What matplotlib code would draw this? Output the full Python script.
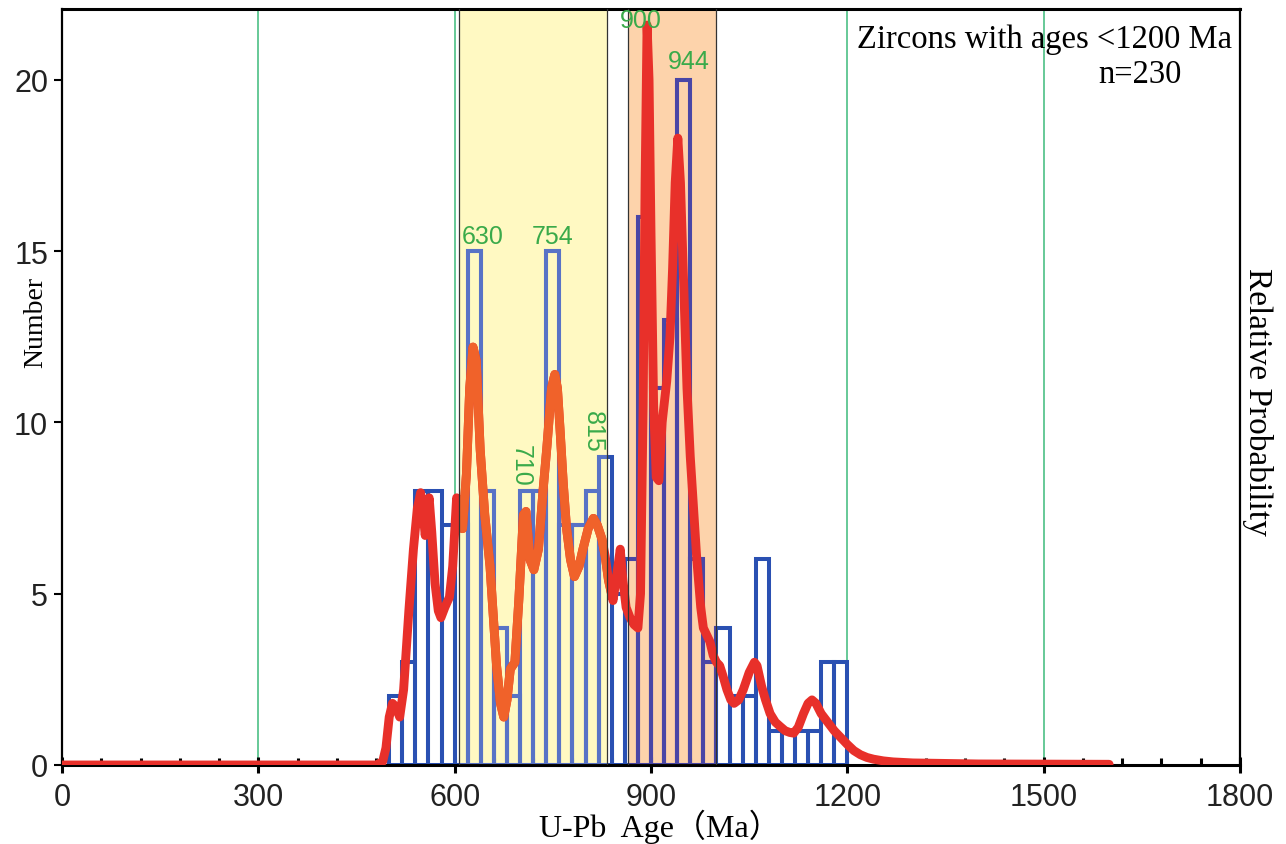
import numpy as np
import matplotlib
matplotlib.use("Agg")
import matplotlib.pyplot as plt
from matplotlib.patches import Rectangle
from matplotlib.ticker import MultipleLocator

# histogram: 20 Ma bins from 500 to 1200 Ma
bin_start = np.arange(500, 1200, 20)
counts = [2, 3, 8, 8, 7, 7, 15, 8, 4, 2, 8, 8, 15, 7, 7, 8, 9, 5, 6, 16,
          11, 13, 20, 6, 3, 4, 2, 2, 6, 1, 1, 1, 1, 3, 3]

# relative probability curve (in "Number" units)
prob_age = [0, 480, 490, 495, 500, 505, 510, 516, 522, 530, 537, 543, 548, 552, 555,
            558, 561, 565, 570, 575, 579, 585, 592, 597, 603, 607, 612, 618, 623, 628,
            633, 639, 646, 654, 664, 670, 675, 680, 685, 692, 698, 705, 709, 715, 721,
            728, 735, 741, 748, 753, 757, 761, 766, 771, 777, 783, 790, 796, 804, 812,
            818, 825, 830, 835, 842, 848, 853, 857, 862, 868, 874, 880, 884, 888, 891,
            894, 897, 900, 904, 908, 912, 917, 924, 929, 933, 937, 941, 945, 950, 955,
            960, 964, 970, 976, 980, 985, 990, 995, 1000, 1005, 1010, 1016, 1022, 1027,
            1034, 1041, 1050, 1058, 1062, 1069, 1075, 1082, 1090, 1097, 1105, 1112,
            1118, 1125, 1133, 1140, 1146, 1152, 1160, 1170, 1180, 1190, 1200, 1210,
            1220, 1230, 1240, 1255, 1270, 1300, 1400, 1600]
prob_val = [0.0, 0.0, 0.1, 0.5, 1.4, 1.8, 1.7, 1.4, 2.2, 4.5, 6.3, 7.5, 7.95, 7.3, 6.7,
            7.4, 7.8, 6.8, 5.3, 4.5, 4.3, 4.6, 4.9, 5.8, 7.8, 7.3, 6.9, 8.5, 11.0, 12.2,
            11.8, 9.2, 7.3, 5.8, 2.9, 1.8, 1.4, 1.9, 2.8, 3.0, 4.8, 7.3, 7.4, 6.0, 5.7,
            6.3, 8.0, 9.3, 11.0, 11.4, 11.0, 9.8, 8.2, 6.9, 6.0, 5.5, 5.8, 6.3, 6.9, 7.2,
            7.0, 6.6, 6.1, 5.4, 4.8, 5.6, 6.3, 5.4, 4.6, 4.3, 4.1, 4.0, 5.0, 10.5, 17.0,
            21.6, 20.0, 15.5, 10.5, 8.4, 8.3, 10.0, 11.2, 12.5, 14.5, 17.0, 18.3, 17.0, 14.0, 11.0,
            9.0, 7.8, 6.0, 4.6, 4.0, 3.8, 3.6, 3.2, 3.0, 2.9, 2.6, 2.2, 1.9, 1.8,
            1.9, 2.2, 2.7, 3.0, 2.9, 2.3, 1.9, 1.5, 1.25, 1.13, 1.0, 0.95,
            0.93, 1.1, 1.5, 1.8, 1.9, 1.8, 1.5, 1.25, 1.0, 0.8, 0.6, 0.42,
            0.3, 0.22, 0.17, 0.12, 0.09, 0.06, 0.03, 0.02]

peak_labels = ["630", "754", "710", "815", "900", "944"]
peak_x = [643, 750, 701, 811, 885, 958]
peak_y = [15.45, 15.45, 8.77, 9.74, 21.75, 20.55]
peak_rot = [0, 0, -90, -90, 0, 0]

green_lines = [300, 600, 1200, 1500]
yellow_span = (607, 833)
orange_span = (865, 1000)

serif = ['Liberation Serif', 'DejaVu Serif', 'Noto Sans CJK SC']
sans = ['Liberation Sans', 'DejaVu Sans']

fig = plt.figure(figsize=(12.86, 8.45), dpi=100)
ax = fig.add_axes([62 / 1286, 1 - 766 / 845, (1240 - 62) / 1286, (766 - 10) / 845])

for gx in green_lines:
    ax.axvline(gx, color='#3dbb7a', lw=1.1, zorder=1)

ax.axvspan(*yellow_span, color='#fff9c2', zorder=0.5, lw=0)
ax.axvspan(*orange_span, color='#fdd3ab', zorder=0.5, lw=0)

clip_y = Rectangle((yellow_span[0], -1), yellow_span[1] - yellow_span[0], 30, transform=ax.transData)
clip_o = Rectangle((orange_span[0], -1), orange_span[1] - orange_span[0], 30, transform=ax.transData)

bars = ax.bar(bin_start, counts, width=20, align='edge', facecolor='none',
              edgecolor='#2a50b2', lw=2.9, zorder=2)
bars_y = ax.bar(bin_start, counts, width=20, align='edge', facecolor='none',
                edgecolor='#5873c6', lw=2.9, zorder=2.1)
for p in bars_y:
    p.set_clip_path(clip_y)
bars_o = ax.bar(bin_start, counts, width=20, align='edge', facecolor='none',
                edgecolor='#4a46a6', lw=2.9, zorder=2.1)
for p in bars_o:
    p.set_clip_path(clip_o)

ax.plot(prob_age, prob_val, color='#e8302a', lw=6.4, solid_capstyle='round',
        solid_joinstyle='round', zorder=3)
ln, = ax.plot(prob_age, prob_val, color='#f0622a', lw=6.4, solid_capstyle='round',
              solid_joinstyle='round', zorder=3.1)
ln.set_clip_path(clip_y)

# thin dark frames of the two age ranges
for span in (yellow_span, orange_span):
    ax.add_patch(Rectangle((span[0], 0), span[1] - span[0], 30, facecolor='none',
                           edgecolor='#333333', lw=0.9, zorder=3.5))

for t, x, y, r in zip(peak_labels, peak_x, peak_y, peak_rot):
    ax.text(x, y, t, color='#3aaa4a', fontsize=18, family=sans, rotation=r,
            ha='center', va='center', zorder=5)

ax.text(0.9935, 0.96, 'Zircons with ages <1200 Ma', transform=ax.transAxes,
        ha='right', va='center', fontsize=23.5, family=serif)
ax.text(0.915, 0.915, 'n=230', transform=ax.transAxes,
        ha='center', va='center', fontsize=23.5, family=serif)

ax.set_xlim(0, 1800)
ax.set_ylim(0, 22.07)
ax.set_xticks([0, 300, 600, 900, 1200, 1500, 1800])
ax.xaxis.set_minor_locator(MultipleLocator(60))
ax.set_yticks([0, 5, 10, 15, 20])
ax.tick_params(axis='x', which='major', direction='inout', length=12, width=2.2, pad=6)
ax.tick_params(axis='x', which='minor', direction='in', length=5, width=2.2)
ax.tick_params(axis='y', which='major', direction='out', length=6, width=1.5, pad=4)
ax.tick_params(labelsize=22)
for lab in ax.get_xticklabels() + ax.get_yticklabels():
    lab.set_family(sans)
    lab.set_color('#222222')

for s in ax.spines.values():
    s.set_linewidth(1.6)
ax.spines['bottom'].set_linewidth(2.2)
ax.spines['top'].set_linewidth(2.2)

fig.text(36 / 1286, 1 - 322 / 845, 'Number', family=serif, fontsize=20,
         rotation=90, ha='center', va='center')
fig.text(660 / 1286, 1 - 827 / 845, 'U-Pb  Age（Ma）', family=serif, fontsize=23,
         ha='center', va='center')
fig.text(1258 / 1286, 1 - 402 / 845, 'Relative Probability', family=serif, fontsize=24,
         rotation=-90, ha='center', va='center')

fig.savefig('out.png', dpi=100)
